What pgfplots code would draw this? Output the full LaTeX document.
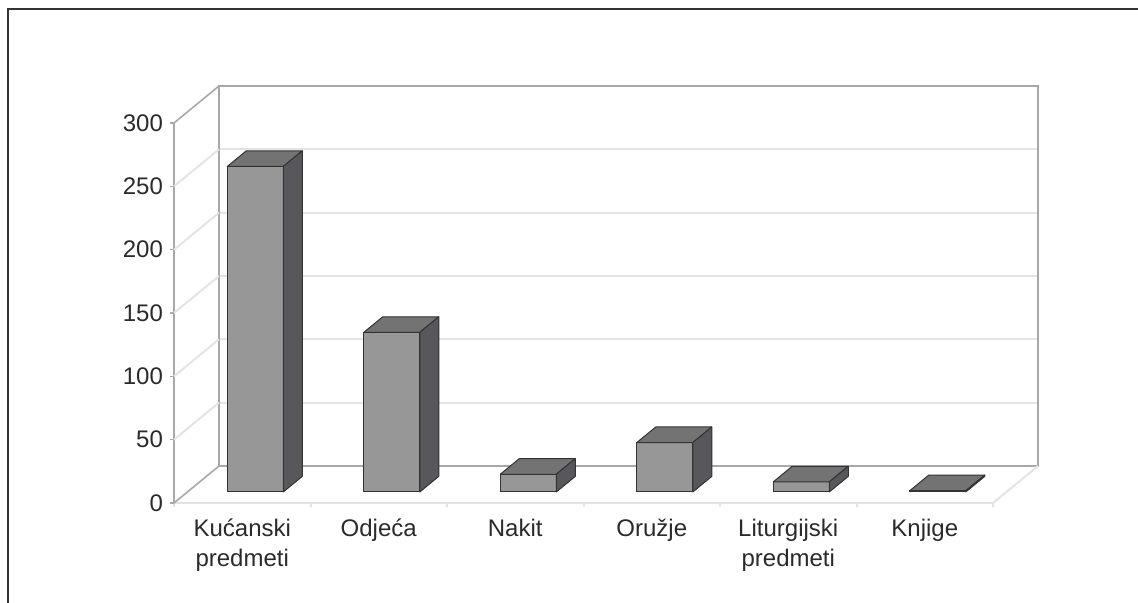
\documentclass[border=0pt]{standalone}
\usepackage{pgfplots}
\usepackage{pgfplotstable}
\pgfplotsset{compat=1.18}
\usepackage{fontspec}
\setmainfont{Liberation Sans}
\definecolor{frontc}{HTML}{979797}
\definecolor{topc}{HTML}{737373}
\definecolor{sidec}{HTML}{58585C}
\definecolor{edgec}{HTML}{333333}
\definecolor{wallc}{HTML}{A8A8AA}
\definecolor{gridc}{HTML}{E4E4E4}
\definecolor{txtc}{HTML}{2A2A2A}
\pgfdeclareplotmark{emptymark}{}
\pgfplotstableread{
x v
0 257
1 126
2 14
3 39
4 8
5 1
}\bardata
\begin{document}
\begin{tikzpicture}
\path[use as bounding box] (0,0) rectangle (569pt,301.5pt);
\draw[color=black!80, line width=0.8pt] (4pt,0) -- (4pt,297pt) -- (569pt,297pt);
% back wall
\begin{axis}[at={(109.5pt,68.5pt)}, anchor=south west, scale only axis,
  width=409.5pt, height=190pt,
  xmin=-0.5, xmax=5.5, ymin=0, ymax=300,
  axis line style={draw=wallc, line width=1pt},
  xtick=\empty, ytick={50,100,...,250}, yticklabels={}, major tick length=0pt,
  ymajorgrids, grid style={draw=gridc, line width=1pt}]
\addplot[draw=none] coordinates {(0,0)};
\end{axis}
% front frame
\begin{axis}[at={(87pt,50pt)}, anchor=south west, scale only axis,
  width=409.5pt, height=190pt,
  xmin=-0.5, xmax=5.5, ymin=0, ymax=300, clip=false,
  axis lines=left, axis line style={-},
  x axis line style={draw=gridc, line width=1pt},
  y axis line style={draw=wallc, line width=0.8pt},
  ytick={0,50,...,300},
  ytick style={draw=wallc, line width=0.8pt},
  xtick style={draw=gridc, line width=1pt},
  major tick length=2pt, tick align=outside,
  xtick={-0.5,0.5,...,5.5}, xticklabels={},
  extra x ticks={0,1,2,3,4,5},
  extra x tick labels={{Kućanski\\predmeti},Odjeća,Nakit,Oružje,{Liturgijski\\predmeti},Knjige},
  extra x tick style={major tick length=0pt, tick label style={yshift=-4.5pt}},
  xticklabel style={align=center, font=\fontsize{12}{15}\selectfont, text=txtc},
  yticklabel style={font=\fontsize{12}{14}\selectfont, text=txtc},
  /pgf/number format/assume math mode=true]
\addplot[draw=none] coordinates {(0,0)};
\pgfplotsinvokeforeach{50,100,150,200,250}{
  \draw[gridc, line width=1pt] (axis cs:-0.5,#1) -- ++(22.5pt,18.5pt);
}
\draw[wallc, line width=0.8pt] (axis cs:-0.5,300) -- ++(22.5pt,18.5pt);
\draw[wallc, line width=0.8pt] (axis cs:-0.5,0) -- ++(22.5pt,18.5pt);
\draw[gridc, line width=1pt] (axis cs:5.5,0) -- ++(22.5pt,18.5pt);
\end{axis}
% bars
\begin{axis}[at={(93.5pt,55.5pt)}, anchor=south west, scale only axis,
  width=409.5pt, height=190pt,
  xmin=-0.5, xmax=5.5, ymin=0, ymax=300, clip=false, hide axis]
\addplot[ybar, bar width=28pt, fill=frontc, draw=edgec, line width=0.5pt]
  table[x=x, y=v] \bardata;
\addplot[only marks, mark=emptymark, scatter,
  visualization depends on={rawy\as\val},
  scatter/@pre marker code/.code={%
    \pgfmathsetmacro\hb{7.8-\val*0.633333}%
    \pgfmathsetmacro\hf{-\val*0.633333}%
    \filldraw[fill=topc, draw=edgec, line width=0.5pt, line join=round]
      (-14pt,0pt) -- (14pt,0pt) -- (23.5pt,7.8pt) -- (-4.5pt,7.8pt) -- cycle;
    \filldraw[fill=sidec, draw=edgec, line width=0.5pt, line join=round]
      (14pt,0pt) -- (23.5pt,7.8pt) -- (23.5pt,\hb pt) -- (14pt,\hf pt) -- cycle;
  },
  scatter/@post marker code/.code={}]
  table[x=x, y=v] \bardata;
\end{axis}
\end{tikzpicture}
\end{document}
